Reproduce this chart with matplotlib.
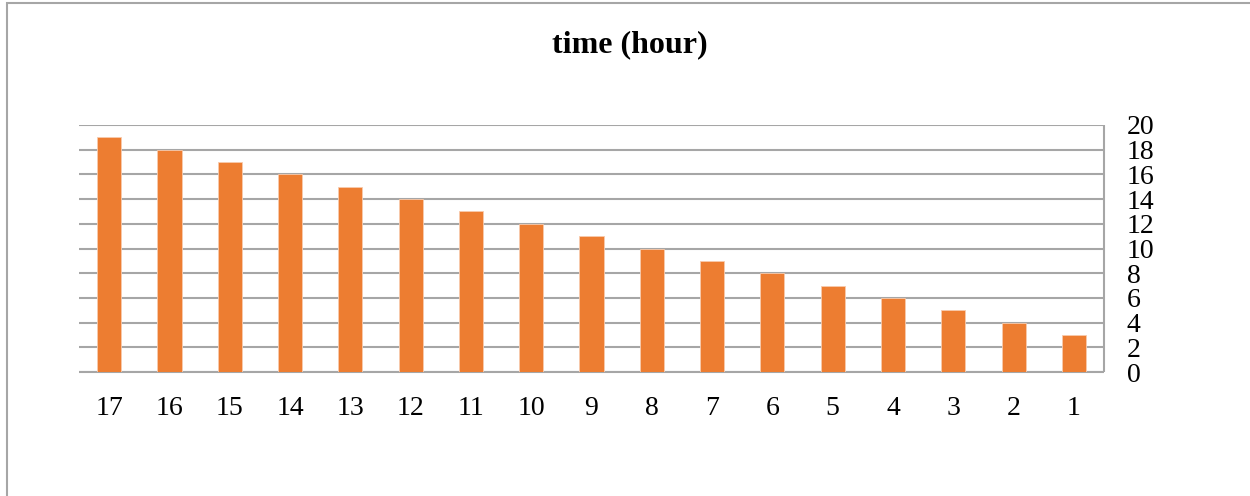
import matplotlib
matplotlib.use("Agg")
import matplotlib.pyplot as plt
from matplotlib.patches import Rectangle

plt.rcParams['font.family'] = ['Liberation Serif', 'DejaVu Serif']

categories = ['17', '16', '15', '14', '13', '12', '11', '10', '9', '8', '7', '6', '5', '4', '3', '2', '1']
hours = [19, 18, 17, 16, 15, 14, 13, 12, 11, 10, 9, 8, 7, 6, 5, 4, 3]
y_ticks = [0, 2, 4, 6, 8, 10, 12, 14, 16, 18, 20]

W, H = 1250, 496
fig = plt.figure(figsize=(W / 100, H / 100), dpi=100)

# outer chart frame
fig.patches.append(Rectangle((7 / W, -0.1), 1.2, (H - 3) / H + 0.1, transform=fig.transFigure,
                             fill=False, edgecolor='#A6A6A6', linewidth=1.5, zorder=0))

left, right, top, bottom = 79, 1104, 125, 372
ax = fig.add_axes([left / W, 1 - bottom / H, (right - left) / W, (bottom - top) / H])

x = range(len(categories))
ax.bar(x, hours, width=0.4, color='#ED7D31', edgecolor='#F8CBAD', linewidth=0.6, zorder=3)

ax.set_xlim(-0.5, len(categories) - 0.5)
ax.set_ylim(0, 20)
ax.set_xticks(list(x))
ax.set_xticklabels(categories, fontsize=20)
ax.set_yticks(y_ticks)
ax.set_yticklabels([str(v) for v in y_ticks], fontsize=20, ha='left')
ax.yaxis.tick_right()
ax.tick_params(axis='y', length=0, pad=16.5)
ax.tick_params(axis='x', length=0, pad=17)

ax.grid(axis='y', color='#A6A6A6', linewidth=1.5, zorder=0)
for s in ['left', 'top']:
    ax.spines[s].set_visible(False)
for s in ['right', 'bottom']:
    ax.spines[s].set_color('#A6A6A6')
    ax.spines[s].set_linewidth(1.5)
    ax.spines[s].set_capstyle('butt')

fig.text(630 / W, 1 - 45 / H, 'time (hour)', ha='center', va='center',
         fontsize=23, fontweight='bold')

fig.savefig('out.png', dpi=100)
